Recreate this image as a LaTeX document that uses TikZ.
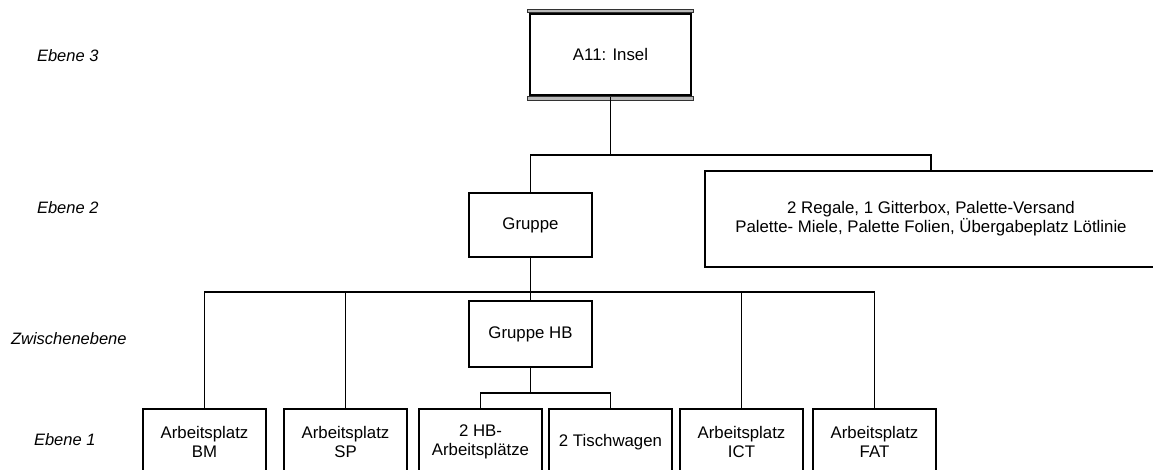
\documentclass[tikz,border=0pt]{standalone}
\usepackage{fontspec}
\setmainfont{Liberation Sans}
\usetikzlibrary{positioning}

\begin{document}
\begin{tikzpicture}[x=1pt, y=-1pt, line width=1.4pt,
  font=\fontsize{16.8}{19}\selectfont,
  kasten/.style={draw, align=center, inner sep=2pt, minimum width=123pt},
  platz/.style={kasten, minimum height=66pt},
  ebene/.style={anchor=west, font=\fontsize{16.5}{19}\selectfont\itshape}]
  \useasboundingbox (0,0) rectangle (1153,470);
  \clip (0,0) rectangle (1153,470);

  % Ebenen links
  \node[ebene] (e3) at (33,56) {Ebene 3};
  \node[ebene] (e2) at (33,208) {Ebene 2};
  \node[ebene] (ez) at (7,339) {Zwischenebene};
  \node[ebene] (e1) at (30,440) {Ebene 1};

  % Ebene 3: Insel mit Doppelrand oben/unten
  \node[draw, line width=2.6pt, minimum width=161pt, minimum height=82pt] (insel) at (610.5,54.5) {A11: Insel};
  \fill[gray!55, draw=gray!40!black, line width=0.7pt]
    ([xshift=-1.3pt]insel.north west) rectangle ([xshift=1.3pt, yshift=3.2pt]insel.north east);
  \fill[gray!55, draw=gray!40!black, line width=0.7pt]
    ([xshift=-1.3pt]insel.south west) rectangle ([xshift=1.3pt, yshift=-3.2pt]insel.south east);

  % Ebene 2
  \node[kasten, minimum height=64pt] (gruppe) at (530.5,225) {Gruppe};
  \node[kasten, minimum width=452pt, minimum height=96pt] (lager) at (931,219)
    {2 Regale, 1 Gitterbox, Palette-Versand\\Palette- Miele, Palette Folien, Übergabeplatz Lötlinie};

  % Zwischenebene
  \node[kasten, minimum height=66pt] (gruppehb) at (530.5,334) {Gruppe HB};

  % Ebene 1
  \node[platz] (bm) at (204.5,442) {Arbeitsplatz\\BM};
  \node[platz] (sp) at (345.5,442) {Arbeitsplatz\\SP};
  \node[platz] (hb) at (480.5,442) {2 HB-\\Arbeitsplätze};
  \node[platz] (tisch) at (610.5,442) {2 Tischwagen};
  \node[platz] (ict) at (741.5,442) {Arbeitsplatz\\ICT};
  \node[platz] (fat) at (874.5,442) {Arbeitsplatz\\FAT};

  % Verbindungen
  \coordinate (k3) at (610.5,155);
  \coordinate (k2) at (530.5,292);
  \coordinate (k1) at (530.5,393);
  \draw (insel.south) -- (k3);
  \draw (gruppe.north) -- (gruppe.north |- k3) -- (lager.north |- k3) -- (lager.north);
  \draw (gruppe.south) -- (gruppehb.north);
  \draw (bm.north) -- (bm.north |- k2) -- (fat.north |- k2) -- (fat.north);
  \draw (sp.north) -- (sp.north |- k2);
  \draw (ict.north) -- (ict.north |- k2);
  \draw (gruppehb.south) -- (k1);
  \draw (hb.north) -- (hb.north |- k1) -- (tisch.north |- k1) -- (tisch.north);
\end{tikzpicture}
\end{document}
